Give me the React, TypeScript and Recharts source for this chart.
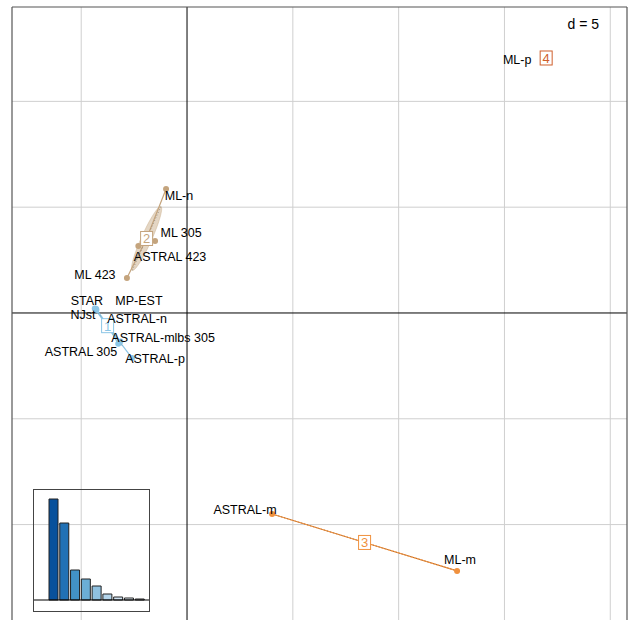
import React from 'react'
import {
  ScatterChart, Scatter, XAxis, YAxis, ReferenceLine,
  BarChart, Bar, Cell,
} from 'recharts'

// points of the first factorial plane
const pointNames = [
  'STAR', 'NJst', 'MP-EST', 'ASTRAL-n', 'ASTRAL-mlbs 305', 'ASTRAL 305', 'ASTRAL-p',
  'ML-n', 'ML 305', 'ASTRAL 423', 'ML 423',
  'ASTRAL-m', 'ML-m',
  'ML-p',
]
const pointX = [-4.36, -4.33, -4.30, -4.28, -3.15, -3.25, -2.60, -0.99, -1.51, -2.30, -2.84, 4.02, 12.76, 16.97]
const pointY = [0.21, 0.17, 0.20, 0.15, -1.35, -1.45, -2.13, 5.86, 3.40, 3.17, 1.65, -9.50, -12.19, 12.05]
const pointGroup = [0, 0, 0, 0, 0, 0, 0, 1, 1, 1, 1, 2, 2, 3]
// where each name sits (data units)
const labelX = [-4.73, -4.91, -2.27, -2.36, -1.13, -5.01, -1.51, -0.38, -0.28, -0.80, -4.35, 2.74, 12.90, 15.60]
const labelY = [0.61, -0.05, 0.61, -0.24, -1.18, -1.84, -2.17, 5.53, 3.78, 2.65, 1.84, -9.31, -11.67, 11.96]

const groupNames = ['1', '2', '3', '4']
const groupColors = ['#8cc6e6', '#c4a47d', '#f0913e', '#cf5f2c']

const eigenValues = [10.1, 7.7, 3.0, 2.1, 1.4, 0.6, 0.3, 0.2, 0.1]
const eigenColors = ['#08519c', '#2171b5', '#4292c6', '#6baed6', '#8fc1e0', '#b3d4ea', '#d0e3f2', '#e3eef8', '#f2f7fc']

const gridX = [-5, 0, 5, 10, 15, 20]
const gridY = [-10, -5, 0, 5, 10]
const xDomain: [number, number] = [-8.27, 20.79]
const yDomain: [number, number] = [-14.51, 14.46]

const FONT = '"Liberation Sans", Arial, sans-serif'

type P = { x: number; y: number }

const points = pointNames.map((name, i) => ({
  name, x: pointX[i], y: pointY[i], g: pointGroup[i], lx: labelX[i], ly: labelY[i],
}))

const groups = groupNames.map((name, g) => {
  const pts = points.filter((p) => p.g === g)
  const n = pts.length
  const mx = pts.reduce((s, p) => s + p.x, 0) / n
  const my = pts.reduce((s, p) => s + p.y, 0) / n
  let vxx = 0, vyy = 0, vxy = 0
  pts.forEach((p) => {
    vxx += (p.x - mx) ** 2 / n
    vyy += (p.y - my) ** 2 / n
    vxy += (p.x - mx) * (p.y - my) / n
  })
  const tr = vxx + vyy
  const det = vxx * vyy - vxy * vxy
  const disc = Math.sqrt(Math.max(tr * tr / 4 - det, 0))
  const l1 = tr / 2 + disc
  const l2 = Math.max(tr / 2 - disc, 0)
  const ang = Math.abs(vxy) < 1e-12 ? (vxx >= vyy ? 0 : Math.PI / 2) : Math.atan2(l1 - vxx, vxy)
  const a = Math.sqrt(l1)
  const b = Math.sqrt(l2)
  const c = Math.cos(ang), s = Math.sin(ang)
  const ellipse: P[] = []
  for (let k = 0; k <= 72; k++) {
    const t = (k / 72) * Math.PI * 2
    const u = a * Math.cos(t), v = b * Math.sin(t)
    ellipse.push({ x: mx + u * c - v * s, y: my + u * s + v * c })
  }
  const axis: P[] = [{ x: mx - a * c, y: my - a * s }, { x: mx + a * c, y: my + a * s }]
  const star: P[] = []
  pts.forEach((p) => { star.push({ x: mx, y: my }); star.push({ x: p.x, y: p.y }) })
  return { name, color: groupColors[g], center: { x: mx, y: my }, ellipse, axis, star, pts, n }
})

const none = () => <g />

function EllipseFill(color: string) {
  return (props: any) => {
    const pts: { x: number; y: number }[] = props.points || []
    if (!pts.length) return <g />
    const d = pts.map((p, i) => `${i ? 'L' : 'M'}${p.x},${p.y}`).join(' ') + ' Z'
    return <path d={d} fill={color} fillOpacity={0.45} stroke={color} strokeOpacity={0.5} strokeWidth={0.8} />
  }
}

function ClassBox(color: string, label: string) {
  return (props: any) => {
    const { cx, cy } = props
    return (
      <g>
        <rect x={cx - 6} y={cy - 7} width={12} height={14} fill="#fff" stroke={color} strokeWidth={1} />
        <text x={cx} y={cy + 5} textAnchor="middle" fontSize={13} fontFamily={FONT} fill={color}>{label}</text>
      </g>
    )
  }
}

function NameLabel(props: any) {
  const { cx, cy, payload } = props
  return (
    <text x={cx} y={cy + 4.5} textAnchor="middle" fontSize={12.5} fontFamily={FONT} fill="#000">
      {payload.name}
    </text>
  )
}

function Dot(color: string) {
  return (props: any) => <circle cx={props.cx} cy={props.cy} r={3} fill={color} />
}

export default function App() {
  const labelData = points.map((p) => ({ name: p.name, x: p.lx, y: p.ly }))
  return (
    <div style={{ position: 'absolute', left: 0, top: 0, width: 629, height: 620, background: '#fff' }}>
      <ScatterChart width={629} height={620} margin={{ top: 7, right: 2, bottom: 0, left: 12 }}>
        <XAxis type="number" dataKey="x" domain={xDomain} hide allowDataOverflow />
        <YAxis type="number" dataKey="y" domain={yDomain} hide allowDataOverflow />
        {gridX.filter((v) => v !== 0).map((v) => (
          <ReferenceLine key={'gx' + v} x={v} stroke="#cfcfcf" strokeWidth={1} />
        ))}
        {gridY.filter((v) => v !== 0).map((v) => (
          <ReferenceLine key={'gy' + v} y={v} stroke="#cfcfcf" strokeWidth={1} />
        ))}
        <ReferenceLine x={0} stroke="#000" strokeWidth={1} />
        <ReferenceLine y={0} stroke="#000" strokeWidth={1} />
        <ReferenceLine segment={[{ x: xDomain[0], y: yDomain[1] }, { x: xDomain[1], y: yDomain[1] }]} stroke="#555" strokeWidth={1.2} />
        <ReferenceLine segment={[{ x: xDomain[0], y: yDomain[0] }, { x: xDomain[0], y: yDomain[1] }]} stroke="#555" strokeWidth={1.2} />
        <ReferenceLine segment={[{ x: xDomain[1], y: yDomain[0] }, { x: xDomain[1], y: yDomain[1] }]} stroke="#555" strokeWidth={1.2} />

        {groups.filter((g) => g.n > 1).map((g) => (
          <Scatter key={'el' + g.name} data={g.ellipse} shape={none} line={EllipseFill(g.color)} lineType="joint" isAnimationActive={false} />
        ))}
        {groups.filter((g) => g.n > 1).map((g) => (
          <Scatter key={'st' + g.name} data={g.star} shape={none} line={{ stroke: g.color, strokeWidth: 1.2 }} lineType="joint" isAnimationActive={false} />
        ))}
        {groups.filter((g) => g.n > 1).map((g) => (
          <Scatter key={'ax' + g.name} data={g.axis} shape={none} line={{ stroke: '#444', strokeWidth: 1, strokeDasharray: '1 2', strokeOpacity: 0.45 }} lineType="joint" isAnimationActive={false} />
        ))}
        {groups.map((g) => (
          <Scatter key={'pt' + g.name} data={g.pts} shape={Dot(g.color)} isAnimationActive={false} />
        ))}
        {groups.map((g) => (
          <Scatter key={'cb' + g.name} data={[g.center]} shape={ClassBox(g.color, g.name)} isAnimationActive={false} />
        ))}
        <Scatter data={labelData} shape={NameLabel} isAnimationActive={false} />
      </ScatterChart>

      <div style={{ position: 'absolute', left: 530, top: 16, width: 69, textAlign: 'right', fontFamily: FONT, fontSize: 14, color: '#000' }}>
        d = 5
      </div>

      <div style={{ position: 'absolute', left: 33, top: 489, width: 117, height: 123, border: '1px solid #444', boxSizing: 'border-box' }}>
        <BarChart width={115} height={121} data={eigenValues.map((v, i) => ({ k: i + 1, v }))}
          margin={{ top: 0, right: 0, bottom: 11, left: 0 }} barCategoryGap={1}>
          <XAxis dataKey="k" hide padding={{ left: 14, right: 4 }} />
          <YAxis hide domain={[0, 11]} />
          <Bar dataKey="v" stroke="#222" strokeWidth={1} isAnimationActive={false}>
            {eigenValues.map((_, i) => <Cell key={i} fill={eigenColors[i]} />)}
          </Bar>
          <ReferenceLine y={0} stroke="#000" strokeWidth={1.2} />
        </BarChart>
      </div>
    </div>
  )
}
